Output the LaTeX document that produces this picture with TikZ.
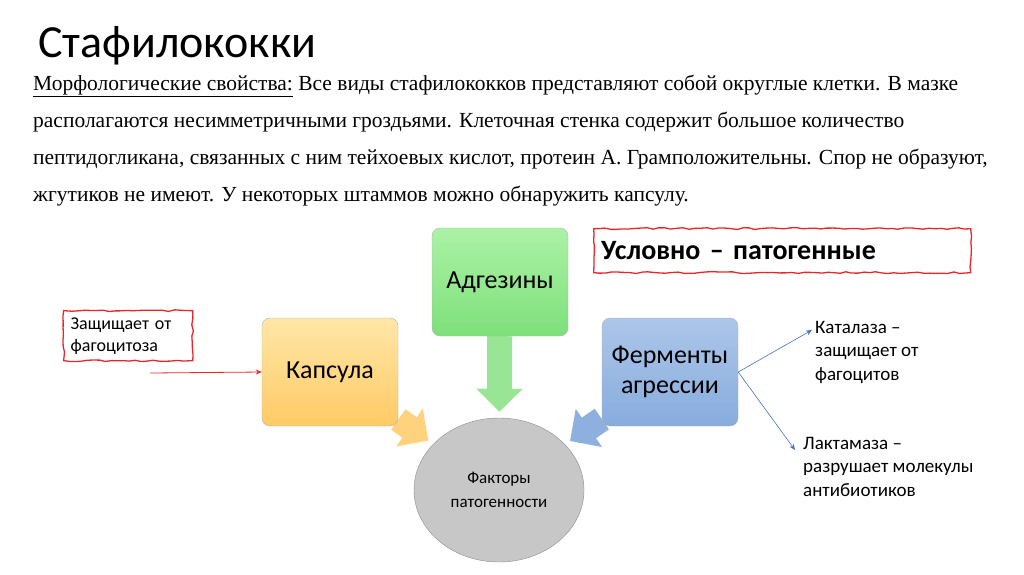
\documentclass[tikz,border=0pt]{standalone}
\usepackage{fontspec}
\setmainfont{Liberation Serif}
\newfontfamily\calibri{Carlito}
\usetikzlibrary{positioning, arrows.meta, calc, shapes.geometric, decorations.pathmorphing, backgrounds}
\definecolor{redline}{HTML}{E8262A}
\definecolor{bluearr}{HTML}{4472C4}
\definecolor{adhtop}{HTML}{ABF2A6}
\definecolor{adhbot}{HTML}{7EE07A}
\definecolor{captop}{HTML}{FFE7A8}
\definecolor{capbot}{HTML}{FFCA66}
\definecolor{fermtop}{HTML}{ADC6E9}
\definecolor{fermbot}{HTML}{87ACDD}
\tikzset{
  factorbox/.style={rectangle, rounded corners=8pt, minimum width=136pt, minimum height=108pt, draw=black!30, align=center, font=\calibri\fontsize{26}{30}\selectfont},
  fatarrow/.style={line width=25pt, -{Triangle[length=23pt, width=45pt]}, shorten >=6pt},
  notebox/.style={draw=redline, line width=1.3pt, decorate, decoration={random steps, segment length=6pt, amplitude=0.9pt}, align=left, inner sep=6pt},
  thinarrow/.style={-{Stealth[length=6pt, width=5pt]}},
  sidetext/.style={align=left, inner sep=0pt, font=\calibri\fontsize{19}{23.5}\selectfont}
}
\begin{document}
\begin{tikzpicture}[x=1pt, y=-1pt]
    \useasboundingbox (0,0) rectangle (1024,574);

    % Заголовок и текст
    \node (title) [anchor=west, inner sep=0pt, font=\calibri\fontsize{46}{52}\selectfont] at (38,46) {Стафилококки};
    \node (morph) [anchor=north west, inner sep=0pt, align=left, font=\fontsize{21.5}{37}\selectfont] at (33,75)
    {\underline{Морфологические свойства:} Все виды стафилококков представляют собой округлые клетки. В мазке\\
     располагаются несимметричными гроздьями. Клеточная стенка содержит большое количество\\
     пептидогликана, связанных с ним тейхоевых кислот, протеин А. Грамположительны. Спор не образуют,\\
     жгутиков не имеют. У некоторых штаммов можно обнаружить капсулу.};

    % Факторы
    \node (adh) [factorbox, top color=adhtop, bottom color=adhbot] at (500,282) {Адгезины};
    \node (cap) [factorbox, top color=captop, bottom color=capbot] at (330,372) {Капсула};
    \node (ferm) [factorbox, top color=fermtop, bottom color=fermbot] at (670,372) {Ферменты\\агрессии};
    \node (fac) [ellipse, minimum width=170pt, minimum height=144pt, draw=black!45, fill=black!22, align=center, font=\calibri\fontsize{17}{24}\selectfont] at (499,490) {Факторы\\патогенности};

    \begin{scope}[on background layer]
      \draw [fatarrow, draw=adhbot!80!white] (adh) -- (fac);
      \draw [fatarrow, draw=capbot!85!white] (cap) -- (fac);
      \draw [fatarrow, draw=fermbot!95!white] (ferm) -- (fac);
    \end{scope}

    % Пояснения
    \node (note) [notebox, anchor=north west, minimum width=129pt, minimum height=50pt, text width=115pt, font=\calibri\fontsize{18}{22}\selectfont] at (63,310) {Защищает от\\фагоцитоза};
    \node (cond) [notebox, anchor=north west, minimum width=377pt, minimum height=44pt, text width=362pt, font=\calibri\bfseries\fontsize{28}{32}\selectfont] at (593,228) {Условно – патогенные};
    \node (kat) [sidetext, anchor=north west] at (815,321) {Каталаза –\\защищает от\\фагоцитов};
    \node (lact) [sidetext, anchor=north west] at (803,437) {Лактамаза –\\разрушает молекулы\\антибиотиков};

    % Стрелки
    \coordinate (noteout) at (150,373);
    \draw [thinarrow, redline, thick] (noteout) -- (cap.west);
    \draw [thinarrow, bluearr, semithick] (ferm.east) -- ($(kat.north west)+(-3,9)$);
    \draw [thinarrow, bluearr, semithick] (ferm.east) -- ($(lact.north west)+(-8,13)$);

\end{tikzpicture}
\end{document}
